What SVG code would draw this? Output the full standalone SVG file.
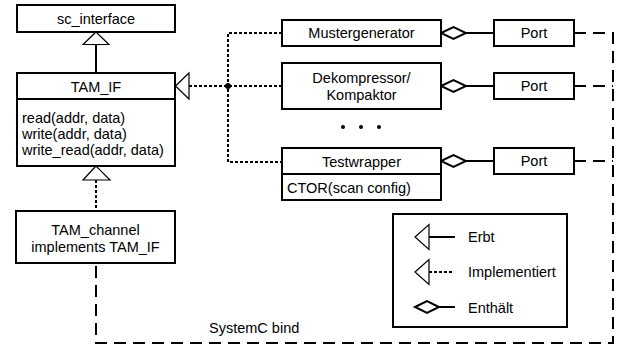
<svg xmlns="http://www.w3.org/2000/svg" width="619" height="347" viewBox="0 0 619 347">
<style>
.box{fill:#fff;stroke:#000;stroke-width:2}
.t{font-family:"Liberation Sans",Arial,sans-serif;font-size:14.5px;fill:#000}
.c{text-anchor:middle}
.solid{fill:none;stroke:#000;stroke-width:2}
.dot{fill:none;stroke:#000;stroke-width:2;stroke-dasharray:3,2}
.dash{fill:none;stroke:#000;stroke-width:2;stroke-dasharray:12,7}
.tri{fill:#fff;stroke:#000;stroke-width:1.2}
.dia{fill:#fff;stroke:#000;stroke-width:2}
</style>
<rect width="619" height="347" fill="#fff"/>
<g id="connectors">
  <line class="solid" x1="96" y1="44" x2="96" y2="73"/>
  <polygon class="tri" points="96,32 83,44.5 109,44.5"/>
  <line class="dot" x1="96" y1="180" x2="96" y2="211"/>
  <polygon class="tri" points="96,166 83,180 110,180"/>
  <polyline class="dot" points="282,33 228,33 228,162 282,162"/>
  <line class="dot" x1="189" y1="86" x2="282" y2="86"/>
  <circle cx="228" cy="86" r="3" fill="#000"/>
  <polygon class="tri" points="175.5,86 189,73 189,99"/>
  <line class="solid" x1="466" y1="33" x2="494" y2="33"/>
  <polygon class="dia" points="441,33 453.5,27 466,33 453.5,39"/>
  <line class="solid" x1="466" y1="86" x2="494" y2="86"/>
  <polygon class="dia" points="441,86 453.5,80 466,86 453.5,92"/>
  <line class="solid" x1="466" y1="161" x2="494" y2="161"/>
  <polygon class="dia" points="441,161 453.5,155 466,161 453.5,167"/>
  <line class="dash" x1="574" y1="86" x2="613" y2="86"/>
  <line class="dash" x1="574" y1="161" x2="613" y2="161"/>
  <polyline class="dash" points="574,33 613,33 613,343 96,343 96,263"/>
</g>
<g id="sc_interface">
  <rect class="box" x="17" y="5" width="158" height="27"/>
  <text class="t c" x="96" y="23.5">sc_interface</text>
</g>
<g id="TAM_IF">
  <rect class="box" x="17" y="73" width="158" height="93"/>
  <line class="solid" x1="17" y1="99" x2="175" y2="99"/>
  <text class="t c" x="96" y="91.5">TAM_IF</text>
  <text class="t" x="22" y="122.5">read(addr, data)</text>
  <text class="t" x="22" y="138.5">write(addr, data)</text>
  <text class="t" x="22" y="155">write_read(addr, data)</text>
</g>
<g id="TAM_channel">
  <rect class="box" x="16" y="211" width="159" height="52"/>
  <text class="t c" x="95.5" y="235">TAM_channel</text>
  <text class="t c" x="95.5" y="252">implements TAM_IF</text>
</g>
<g id="Mustergenerator">
  <rect class="box" x="282" y="20" width="159" height="26"/>
  <text class="t c" x="361.5" y="38">Mustergenerator</text>
</g>
<g id="Dekompressor">
  <rect class="box" x="282" y="63" width="159" height="46"/>
  <text class="t c" x="361.5" y="83">Dekompressor/</text>
  <text class="t c" x="361.5" y="100">Kompaktor</text>
</g>
<g id="ellipsis">
  <circle cx="343" cy="127" r="2" fill="#000"/>
  <circle cx="361" cy="127" r="2" fill="#000"/>
  <circle cx="379" cy="127" r="2" fill="#000"/>
</g>
<g id="Testwrapper">
  <rect class="box" x="282" y="148" width="159" height="52"/>
  <line class="solid" x1="282" y1="174" x2="441" y2="174"/>
  <text class="t c" x="361.5" y="167">Testwrapper</text>
  <text class="t" x="287" y="193">CTOR(scan config)</text>
</g>
<g id="Port1">
  <rect class="box" x="494" y="20" width="80" height="26"/>
  <text class="t c" x="534" y="38">Port</text>
</g>
<g id="Port2">
  <rect class="box" x="494" y="73" width="80" height="26"/>
  <text class="t c" x="534" y="91">Port</text>
</g>
<g id="Port3">
  <rect class="box" x="494" y="148" width="80" height="26"/>
  <text class="t c" x="534" y="166">Port</text>
</g>
<g id="bind_label">
  <text class="t" x="209" y="333">SystemC bind</text>
</g>
<g id="legend">
  <rect class="box" x="393" y="214" width="174" height="113"/>
  <line class="solid" x1="429" y1="237" x2="455" y2="237"/>
  <polygon class="tri" points="415,237 429,224.5 429,249.5"/>
  <text class="t" x="468" y="242">Erbt</text>
  <line class="dot" x1="429" y1="272" x2="453" y2="272"/>
  <polygon class="tri" points="415,272 429,259.5 429,284.5"/>
  <text class="t" x="468" y="277">Implementiert</text>
  <line class="solid" x1="439" y1="307" x2="455" y2="307"/>
  <polygon class="dia" points="415,307 427,301 439,307 427,313"/>
  <text class="t" x="468" y="312.5">Enthält</text>
</g>
</svg>
